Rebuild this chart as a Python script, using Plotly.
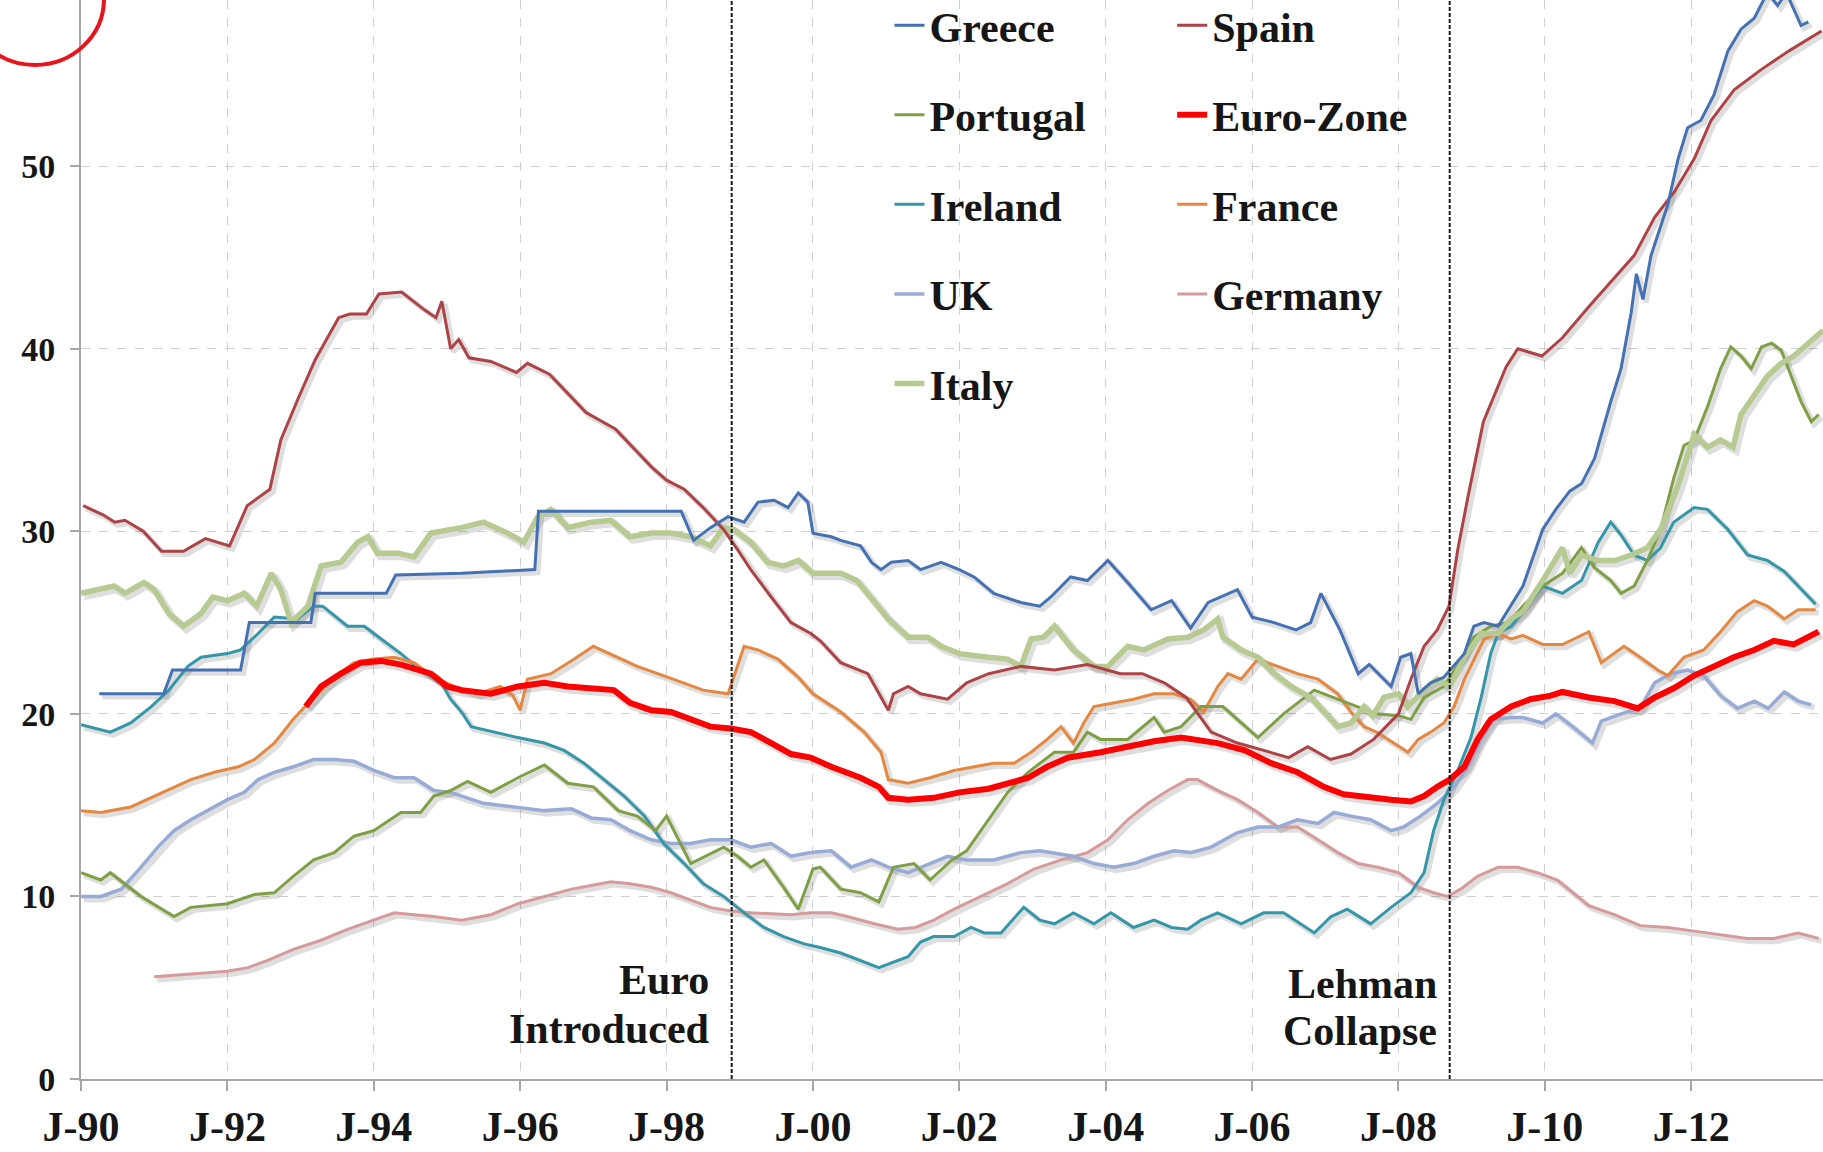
import plotly.graph_objects as go

# ---------------- data (decimal years, youth unemployment %) ----------------
greece_t = [1990.25, 1991.13, 1991.25, 1992.18, 1992.3, 1993.14, 1993.2, 1994.17, 1994.3, 1995.2, 1996.2, 1996.25,
            1997.2, 1998.2, 1998.37, 1998.6, 1998.84, 1999.06, 1999.25, 1999.47, 1999.66, 1999.8, 1999.93, 2000.0,
            2000.25, 2000.38, 2000.65, 2000.8, 2000.93, 2001.07, 2001.3, 2001.47, 2001.75, 2002.0, 2002.2, 2002.47,
            2002.84, 2003.1, 2003.25, 2003.52, 2003.75, 2004.03, 2004.3, 2004.62, 2004.9, 2005.16, 2005.4, 2005.8,
            2006.0, 2006.3, 2006.6, 2006.8, 2006.94, 2007.2, 2007.45, 2007.6, 2007.9, 2008.03, 2008.17, 2008.27,
            2008.44, 2008.62, 2008.9, 2009.03, 2009.17, 2009.36, 2009.7, 2009.97, 2010.15, 2010.34, 2010.5, 2010.68,
            2010.9, 2011.04, 2011.18, 2011.25, 2011.34, 2011.45, 2011.68, 2011.82, 2011.95, 2012.13, 2012.31,
            2012.5, 2012.68, 2012.86, 2013.04, 2013.18, 2013.3, 2013.5, 2013.6]
greece_v = [21.1, 21.1, 22.4, 22.4, 25.0, 25.0, 26.6, 26.6, 27.6, 27.7, 27.9, 31.1,
            31.1, 31.1, 29.5, 30.2, 30.8, 30.5, 31.6, 31.7, 31.3, 32.1, 31.6, 29.9,
            29.7, 29.5, 29.2, 28.3, 27.9, 28.3, 28.4, 27.9, 28.3, 27.9, 27.5, 26.6,
            26.1, 25.9, 26.4, 27.5, 27.3, 28.4, 27.2, 25.7, 26.2, 24.7, 26.1, 26.8,
            25.3, 25.0, 24.6, 25.0, 26.6, 24.6, 22.2, 22.7, 21.5, 23.1, 23.3, 21.1,
            21.7, 22.0, 23.3, 24.8, 25.0, 24.8, 27.0, 30.1, 31.2, 32.2, 32.6, 34.0,
            37.1, 38.9, 42.0, 44.1, 42.7, 45.1, 47.9, 50.4, 52.1, 52.5, 53.9,
            56.3, 57.5, 58.1, 59.5, 58.8, 59.5, 57.7, 57.9]

spain_t = [1990.03, 1990.3, 1990.46, 1990.6, 1990.85, 1991.1, 1991.4, 1991.7, 1992.03, 1992.27, 1992.58, 1992.73,
           1992.97, 1993.2, 1993.52, 1993.67, 1993.9, 1994.07, 1994.38, 1994.7, 1994.85, 1994.93, 1995.05, 1995.16,
           1995.3, 1995.6, 1995.95, 1996.1, 1996.4, 1996.9, 1997.3, 1997.8, 1998.0, 1998.24, 1998.5, 1998.78,
           1998.97, 1999.15, 1999.43, 1999.7, 1999.97, 2000.1, 2000.38, 2000.75, 2001.03, 2001.1, 2001.3, 2001.47,
           2001.84, 2002.1, 2002.4, 2002.84, 2003.3, 2003.75, 2004.2, 2004.5, 2004.8, 2005.1, 2005.44, 2005.8,
           2006.16, 2006.5, 2006.76, 2007.07, 2007.35, 2007.66, 2008.0, 2008.17, 2008.35, 2008.53, 2008.69, 2008.81,
           2008.95, 2009.16, 2009.47, 2009.63, 2009.96, 2010.24, 2010.6, 2011.0, 2011.22, 2011.5, 2011.77, 2012.04,
           2012.27, 2012.59, 2012.96, 2013.33, 2013.78]
spain_v = [31.4, 30.9, 30.5, 30.6, 30.0, 28.9, 28.9, 29.6, 29.2, 31.4, 32.3, 35.0,
           37.3, 39.4, 41.7, 41.9, 41.9, 43.0, 43.1, 42.1, 41.7, 42.6, 40.0, 40.5,
           39.5, 39.3, 38.7, 39.2, 38.6, 36.5, 35.6, 33.5, 32.8, 32.3, 31.3, 30.1,
           29.0, 27.9, 26.4, 25.0, 24.4, 24.0, 22.8, 22.2, 20.2, 21.1, 21.5, 21.1,
           20.8, 21.7, 22.2, 22.6, 22.4, 22.7, 22.2, 22.2, 21.7, 20.9, 19.0, 18.4,
           18.0, 17.6, 18.2, 17.5, 17.8, 18.6, 20.0, 21.9, 23.7, 24.6, 25.9, 29.0,
           31.9, 36.0, 39.0, 40.0, 39.6, 40.6, 42.3, 44.1, 45.1, 47.2, 48.6, 50.4,
           52.5, 54.2, 55.3, 56.3, 57.4]

portugal_t = [1990.0, 1990.27, 1990.4, 1990.82, 1991.27, 1991.5, 1992.0, 1992.37, 1992.64, 1992.9, 1993.18, 1993.46,
              1993.73, 1994.0, 1994.37, 1994.64, 1994.82, 1995.05, 1995.28, 1995.6, 1995.97, 1996.33, 1996.65, 1997.0,
              1997.34, 1997.6, 1997.85, 1998.0, 1998.33, 1998.78, 1998.97, 1999.15, 1999.33, 1999.6, 1999.8, 2000.0,
              2000.1, 2000.38, 2000.65, 2000.9, 2001.1, 2001.38, 2001.6, 2001.9, 2002.1, 2002.4, 2002.66, 2002.94,
              2003.3, 2003.56, 2003.75, 2003.93, 2004.3, 2004.66, 2004.8, 2005.03, 2005.3, 2005.6, 2006.08, 2006.43,
              2006.85, 2007.3, 2007.7, 2008.0, 2008.17, 2008.35, 2008.62, 2008.8, 2009.03, 2009.26, 2009.5, 2009.7,
              2009.97, 2010.24, 2010.5, 2010.68, 2010.9, 2011.04, 2011.22, 2011.4, 2011.58, 2011.76, 2011.9, 2012.04,
              2012.22, 2012.4, 2012.54, 2012.68, 2012.82, 2012.96, 2013.1, 2013.23, 2013.37, 2013.5, 2013.64, 2013.74]
portugal_v = [11.3, 10.9, 11.3, 10.0, 8.9, 9.4, 9.6, 10.1, 10.2, 11.1, 12.0, 12.4,
              13.3, 13.6, 14.6, 14.6, 15.5, 15.8, 16.3, 15.7, 16.5, 17.2, 16.2, 16.0,
              14.7, 14.4, 13.6, 14.4, 11.8, 12.7, 12.2, 11.6, 12.0, 10.5, 9.3, 11.5,
              11.6, 10.4, 10.2, 9.7, 11.6, 11.8, 10.9, 12.0, 12.5, 14.2, 15.7, 16.8,
              17.9, 17.9, 19.0, 18.6, 18.6, 19.8, 19.0, 19.3, 20.4, 20.4, 18.7, 20.0,
              21.3, 20.6, 20.0, 19.9, 19.7, 20.9, 21.5, 22.6, 24.2, 24.8, 25.0, 25.9,
              27.0, 27.7, 29.1, 28.0, 27.3, 26.6, 27.0, 28.4, 30.1, 32.9, 34.7, 35.0,
              36.8, 38.9, 40.1, 39.6, 38.9, 40.1, 40.3, 39.9, 38.5, 37.1, 36.0, 36.4]

euro_t = [1993.07, 1993.28, 1993.55, 1993.82, 1994.1, 1994.37, 1994.78, 1995.0, 1995.2, 1995.6, 1995.97, 1996.33,
          1996.65, 1996.97, 1997.28, 1997.5, 1997.79, 1998.06, 1998.33, 1998.6, 1998.88, 1999.15, 1999.43, 1999.7,
          1999.97, 2000.25, 2000.65, 2000.9, 2001.03, 2001.3, 2001.65, 2002.0, 2002.4, 2002.66, 2002.94, 2003.2,
          2003.48, 2003.93, 2004.3, 2004.66, 2005.03, 2005.53, 2005.9, 2006.26, 2006.62, 2006.98, 2007.25, 2007.62,
          2007.9, 2008.17, 2008.35, 2008.53, 2008.7, 2008.9, 2009.08, 2009.26, 2009.54, 2009.8, 2010.08, 2010.24,
          2010.6, 2010.95, 2011.27, 2011.5, 2011.76, 2012.04, 2012.31, 2012.58, 2012.86, 2013.13, 2013.4, 2013.74]
euro_v = [20.4, 21.5, 22.2, 22.8, 22.9, 22.7, 22.2, 21.5, 21.3, 21.1, 21.5, 21.7,
          21.5, 21.4, 21.3, 20.6, 20.2, 20.1, 19.7, 19.3, 19.2, 19.0, 18.4, 17.8,
          17.6, 17.1, 16.5, 16.0, 15.4, 15.3, 15.4, 15.7, 15.9, 16.2, 16.5, 17.1,
          17.6, 17.9, 18.2, 18.5, 18.7, 18.4, 18.0, 17.3, 16.8, 16.0, 15.6, 15.4,
          15.3, 15.2, 15.5, 16.0, 16.4, 17.1, 18.6, 19.7, 20.4, 20.8, 21.0, 21.2,
          20.9, 20.7, 20.3, 20.9, 21.4, 22.1, 22.6, 23.1, 23.5, 24.0, 23.8, 24.5]

ireland_t = [1990.0, 1990.4, 1990.68, 1990.96, 1991.2, 1991.46, 1991.64, 1992.0, 1992.18, 1992.42, 1992.64, 1992.96,
             1993.18, 1993.3, 1993.64, 1993.87, 1994.1, 1994.37, 1994.64, 1994.92, 1995.05, 1995.2, 1995.33, 1995.64,
             1995.97, 1996.33, 1996.6, 1996.87, 1997.15, 1997.42, 1997.7, 1997.96, 1998.24, 1998.5, 1998.78, 1999.06,
             1999.33, 1999.6, 1999.88, 2000.1, 2000.38, 2000.65, 2000.9, 2001.1, 2001.3, 2001.47, 2001.65, 2001.93,
             2002.16, 2002.34, 2002.57, 2002.88, 2003.1, 2003.3, 2003.56, 2003.84, 2004.07, 2004.38, 2004.66, 2004.9,
             2005.12, 2005.3, 2005.53, 2005.85, 2006.16, 2006.43, 2006.85, 2007.08, 2007.3, 2007.62, 2007.9, 2008.17,
             2008.35, 2008.48, 2008.62, 2008.8, 2008.99, 2009.13, 2009.26, 2009.36, 2009.54, 2009.7, 2009.97, 2010.24,
             2010.5, 2010.73, 2010.9, 2011.04, 2011.22, 2011.4, 2011.58, 2011.76, 2012.04, 2012.22, 2012.5, 2012.77,
             2013.04, 2013.27, 2013.46, 2013.7]
ireland_v = [19.4, 19.0, 19.5, 20.4, 21.3, 22.6, 23.1, 23.3, 23.5, 24.4, 25.3, 25.2,
             25.9, 25.9, 24.8, 24.8, 24.1, 23.3, 22.4, 21.7, 20.8, 20.1, 19.3, 19.0,
             18.7, 18.4, 18.0, 17.3, 16.4, 15.5, 14.4, 12.9, 11.8, 10.7, 10.0, 9.1,
             8.3, 7.8, 7.4, 7.2, 6.9, 6.5, 6.1, 6.4, 6.7, 7.5, 7.8, 7.8,
             8.3, 8.0, 8.0, 9.4, 8.7, 8.5, 9.1, 8.5, 9.1, 8.3, 8.7, 8.3,
             8.2, 8.7, 9.1, 8.5, 9.1, 9.1, 8.0, 8.9, 9.3, 8.5, 9.4, 10.2,
             11.3, 13.6, 15.3, 16.8, 18.7, 20.9, 23.3, 24.4, 24.8, 25.6, 27.0, 26.6,
             27.3, 29.4, 30.5, 29.8, 28.7, 28.4, 29.1, 30.5, 31.3, 31.2, 30.1, 28.7,
             28.4, 27.8, 27.0, 26.0]

france_t = [1990.0, 1990.27, 1990.68, 1991.13, 1991.5, 1991.82, 1992.15, 1992.37, 1992.64, 1992.9, 1993.18, 1993.46,
            1993.73, 1994.0, 1994.28, 1994.55, 1994.82, 1995.1, 1995.42, 1995.73, 1995.9, 1996.0, 1996.1, 1996.42,
            1996.74, 1997.0, 1997.34, 1997.6, 1997.88, 1998.24, 1998.5, 1998.84, 1998.97, 1999.06, 1999.25, 1999.52,
            1999.8, 2000.0, 2000.38, 2000.7, 2000.93, 2001.03, 2001.3, 2001.6, 2001.93, 2002.2, 2002.47, 2002.75,
            2002.98, 2003.2, 2003.39, 2003.56, 2003.7, 2003.84, 2004.11, 2004.38, 2004.66, 2004.93, 2005.16, 2005.34,
            2005.53, 2005.67, 2005.85, 2006.08, 2006.35, 2006.62, 2006.9, 2007.17, 2007.35, 2007.53, 2007.7, 2008.0,
            2008.13, 2008.27, 2008.44, 2008.62, 2008.76, 2008.9, 2009.03, 2009.17, 2009.36, 2009.54, 2009.7, 2009.97,
            2010.24, 2010.6, 2010.77, 2011.08, 2011.3, 2011.54, 2011.68, 2011.9, 2012.17, 2012.4, 2012.63, 2012.86,
            2013.04, 2013.27, 2013.46, 2013.7]
france_v = [14.7, 14.6, 14.9, 15.7, 16.4, 16.8, 17.1, 17.5, 18.4, 19.7, 20.9, 22.0,
            22.8, 23.0, 23.1, 22.8, 22.0, 21.5, 21.1, 21.5, 21.0, 20.2, 21.9, 22.2,
            23.0, 23.7, 23.1, 22.6, 22.2, 21.7, 21.3, 21.1, 22.6, 23.7, 23.5, 23.0,
            22.0, 21.1, 20.1, 19.0, 17.9, 16.4, 16.2, 16.5, 16.9, 17.1, 17.3, 17.3,
            17.9, 18.6, 19.3, 18.4, 19.5, 20.4, 20.6, 20.8, 21.1, 21.1, 20.8, 20.1,
            21.5, 22.2, 21.9, 23.0, 22.6, 22.2, 21.9, 21.1, 20.1, 19.3, 19.0, 18.2,
            17.9, 18.6, 19.0, 19.5, 20.4, 21.9, 23.0, 24.1, 24.4, 24.1, 24.3, 23.8,
            23.8, 24.5, 22.8, 23.7, 23.1, 22.4, 22.1, 23.1, 23.5, 24.5, 25.6, 26.2,
            25.9, 25.2, 25.7, 25.7]

uk_t = [1990.0, 1990.27, 1990.55, 1990.82, 1991.05, 1991.27, 1991.5, 1991.73, 1992.0, 1992.23, 1992.42, 1992.64,
        1992.9, 1993.18, 1993.46, 1993.73, 1994.0, 1994.28, 1994.55, 1994.82, 1995.05, 1995.5, 1995.97, 1996.33,
        1996.7, 1996.97, 1997.24, 1997.5, 1997.79, 1998.06, 1998.33, 1998.6, 1998.88, 1999.15, 1999.43, 1999.7,
        1999.97, 2000.25, 2000.52, 2000.8, 2001.03, 2001.3, 2001.6, 2001.84, 2002.1, 2002.47, 2002.84, 2003.1,
        2003.56, 2003.84, 2004.11, 2004.38, 2004.66, 2004.93, 2005.16, 2005.44, 2005.8, 2006.08, 2006.35, 2006.62,
        2006.9, 2007.12, 2007.35, 2007.62, 2007.9, 2008.07, 2008.3, 2008.53, 2008.76, 2008.95, 2009.13, 2009.3,
        2009.54, 2009.7, 2009.97, 2010.15, 2010.38, 2010.65, 2010.77, 2011.04, 2011.3, 2011.5, 2011.72, 2011.95,
        2012.17, 2012.4, 2012.63, 2012.86, 2013.05, 2013.27, 2013.46, 2013.64]
uk_v = [10.0, 10.0, 10.4, 11.6, 12.7, 13.6, 14.2, 14.7, 15.3, 15.7, 16.4, 16.8,
        17.1, 17.5, 17.5, 17.4, 16.9, 16.5, 16.5, 15.8, 15.7, 15.1, 14.9, 14.7,
        14.8, 14.3, 14.2, 13.6, 13.1, 12.9, 12.9, 13.1, 13.1, 12.7, 12.9, 12.2,
        12.4, 12.5, 11.6, 12.0, 11.6, 11.3, 11.8, 12.2, 12.0, 12.0, 12.4, 12.5,
        12.2, 11.8, 11.6, 11.8, 12.2, 12.5, 12.4, 12.7, 13.5, 13.8, 13.8, 14.2,
        14.0, 14.6, 14.4, 14.2, 13.6, 13.8, 14.4, 15.1, 16.0, 17.1, 18.6, 19.7,
        19.8, 19.8, 19.5, 20.0, 19.3, 18.4, 19.6, 20.0, 20.3, 21.7, 22.2, 22.4,
        22.1, 21.0, 20.3, 20.7, 20.3, 21.2, 20.7, 20.5]

germany_t = [1991.0, 1991.37, 1991.73, 1992.0, 1992.28, 1992.55, 1992.9, 1993.28, 1993.64, 1994.0, 1994.28, 1994.55,
             1994.82, 1995.2, 1995.6, 1995.97, 1996.33, 1996.7, 1996.97, 1997.24, 1997.5, 1997.79, 1998.06, 1998.33,
             1998.6, 1998.88, 1999.15, 1999.7, 1999.97, 2000.25, 2000.47, 2000.84, 2001.16, 2001.4, 2001.65, 2001.93,
             2002.3, 2002.66, 2003.02, 2003.39, 2003.75, 2004.03, 2004.3, 2004.58, 2004.85, 2005.12, 2005.25, 2005.53,
             2005.8, 2006.08, 2006.35, 2006.62, 2006.9, 2007.17, 2007.45, 2007.72, 2008.0, 2008.27, 2008.48, 2008.67,
             2008.85, 2009.08, 2009.36, 2009.63, 2009.9, 2010.17, 2010.6, 2010.95, 2011.3, 2011.68, 2012.04, 2012.4,
             2012.77, 2013.13, 2013.46, 2013.74]
germany_v = [5.6, 5.7, 5.8, 5.9, 6.1, 6.5, 7.1, 7.6, 8.2, 8.7, 9.1, 9.0,
             8.9, 8.7, 9.0, 9.6, 10.0, 10.4, 10.6, 10.8, 10.7, 10.5, 10.2, 9.8,
             9.4, 9.2, 9.1, 9.0, 9.1, 9.1, 8.9, 8.5, 8.2, 8.3, 8.7, 9.3,
             10.0, 10.7, 11.5, 12.0, 12.4, 13.1, 14.2, 15.1, 15.8, 16.4, 16.4, 15.8,
             15.3, 14.6, 13.8, 13.8, 13.1, 12.4, 11.8, 11.6, 11.3, 10.5, 10.2, 10.0,
             10.4, 11.1, 11.6, 11.6, 11.3, 10.9, 9.5, 9.0, 8.4, 8.3, 8.1, 7.9,
             7.7, 7.7, 8.0, 7.7]

italy_t = [1990.0, 1990.27, 1990.45, 1990.6, 1990.86, 1991.0, 1991.2, 1991.4, 1991.64, 1991.8, 1992.0, 1992.23,
           1992.4, 1992.6, 1992.73, 1992.87, 1993.1, 1993.28, 1993.55, 1993.78, 1993.92, 1994.05, 1994.33, 1994.55,
           1994.78, 1995.2, 1995.5, 1995.83, 1996.05, 1996.24, 1996.42, 1996.65, 1996.97, 1997.24, 1997.5, 1997.79,
           1998.06, 1998.33, 1998.6, 1998.78, 1998.92, 1999.15, 1999.38, 1999.6, 1999.8, 2000.0, 2000.38, 2000.6,
           2000.84, 2001.03, 2001.3, 2001.57, 2001.75, 2002.0, 2002.4, 2002.66, 2002.84, 2002.98, 2003.15, 2003.3,
           2003.56, 2003.84, 2004.03, 2004.3, 2004.52, 2004.85, 2005.12, 2005.34, 2005.53, 2005.6, 2005.85, 2006.08,
           2006.3, 2006.53, 2006.8, 2007.08, 2007.17, 2007.35, 2007.53, 2007.65, 2007.8, 2008.0, 2008.13, 2008.35,
           2008.53, 2008.7, 2008.9, 2009.13, 2009.36, 2009.54, 2009.7, 2009.97, 2010.24, 2010.34, 2010.5, 2010.73,
           2010.95, 2011.18, 2011.4, 2011.58, 2011.82, 2012.04, 2012.22, 2012.4, 2012.57, 2012.68, 2012.86, 2013.04,
           2013.23, 2013.4, 2013.6, 2013.8]
italy_v = [26.6, 26.8, 27.0, 26.6, 27.2, 26.8, 25.5, 24.8, 25.5, 26.4, 26.2, 26.6,
           25.9, 27.7, 26.8, 25.0, 25.9, 28.1, 28.3, 29.4, 29.7, 28.8, 28.8, 28.6,
           29.9, 30.2, 30.5, 29.9, 29.4, 30.8, 31.2, 30.2, 30.5, 30.6, 29.7, 29.9,
           29.9, 29.7, 29.2, 30.2, 30.1, 29.4, 28.3, 28.1, 28.4, 27.7, 27.7, 27.3,
           26.1, 25.2, 24.2, 24.2, 23.7, 23.3, 23.1, 23.0, 22.6, 24.1, 24.2, 24.8,
           23.5, 22.6, 22.6, 23.7, 23.5, 24.1, 24.2, 24.6, 25.2, 24.2, 23.5, 23.1,
           22.2, 21.5, 20.9, 19.7, 19.3, 19.5, 20.4, 19.9, 20.9, 21.1, 20.4, 21.3,
           21.9, 21.5, 23.1, 24.4, 24.4, 25.2, 25.6, 27.3, 29.1, 27.7, 28.7, 28.4,
           28.4, 28.7, 29.1, 30.1, 32.5, 35.3, 34.6, 35.0, 34.6, 36.4, 37.5, 38.5,
           39.2, 39.6, 40.3, 41.0]

tick_years = [1990, 1992, 1994, 1996, 1998, 2000, 2002, 2004, 2006, 2008, 2010, 2012]
tick_labels = ["J-90", "J-92", "J-94", "J-96", "J-98", "J-00", "J-02", "J-04", "J-06", "J-08", "J-10", "J-12"]
y_ticks = [0, 10, 20, 30, 40, 50]
events_t = [1998.89, 2008.70]
events_lines = [["Euro", "Introduced"], ["Lehman", "Collapse"]]
events_label_y = [[5.42, 2.74], [5.22, 2.62]]
events_label_shift = [-21, -11]

# ---------------- styling ----------------
SERIF = "Liberation Serif, Times New Roman, serif"
TXT = "#161616"
X_RANGE = [1990.0, 2013.8]
Y_RANGE = [0.0, 59.1]
PLOT_W, PLOT_H = 1823 - 81, 1152 - 73
SHADOW_PX = 3  # soft drop shadow offset (right / down), in pixels
dx = SHADOW_PX * (X_RANGE[1] - X_RANGE[0]) / PLOT_W
dy = SHADOW_PX * (Y_RANGE[1] - Y_RANGE[0]) / PLOT_H

series = [
    # name, t, v, color, width, legend, rank
    ("Germany", germany_t, germany_v, "#D79A9A", 3, "legend2", 4),
    ("UK", uk_t, uk_v, "#98ABD7", 3.5, "legend", 4),
    ("Ireland", ireland_t, ireland_v, "#3396A9", 3, "legend", 3),
    ("France", france_t, france_v, "#E5873F", 3, "legend2", 3),
    ("Portugal", portugal_t, portugal_v, "#7E9F43", 3, "legend", 2),
    ("Italy", italy_t, italy_v, "#B6CA92", 5.5, "legend", 5),
    ("Spain", spain_t, spain_v, "#AE4347", 3, "legend2", 1),
    ("Greece", greece_t, greece_v, "#4471B3", 3, "legend", 1),
    ("Euro-Zone", euro_t, euro_v, "#FF0000", 6, "legend2", 2),
]

fig = go.Figure()
# shadows on the (hidden, slightly shifted) base axes
for name, t, v, color, w, leg, rank in series:
    fig.add_trace(go.Scatter(
        x=t, y=v, mode="lines", xaxis="x", yaxis="y", showlegend=False,
        line=dict(color="rgba(0,0,0,0.13)", width=w + 2.5), hoverinfo="skip",
    ))
# real lines on the visible overlay axes
for name, t, v, color, w, leg, rank in series:
    fig.add_trace(go.Scatter(
        x=t, y=v, mode="lines", name=name, xaxis="x2", yaxis="y2",
        line=dict(color=color, width=w),
        legend=leg, legendrank=rank, legendgroup=name,
        hoverinfo="skip",
    ))

shapes = []
for ev in events_t:
    shapes.append(dict(type="line", xref="x2", yref="paper", x0=ev, x1=ev, y0=0, y1=1,
                       line=dict(color="#1A1A1A", width=2, dash="4px,2px"), layer="above"))
# red highlight circle, top-left corner
shapes.append(dict(type="circle", xref="paper", yref="paper",
                   x0=-0.0660, x1=0.0132, y0=0.9398, y1=1.0621,
                   line=dict(color="#E8141C", width=4)))

annotations = []
for ev, lines, ys, xs in zip(events_t, events_lines, events_label_y, events_label_shift):
    for txt, yy in zip(lines, ys):
        annotations.append(dict(x=ev, y=yy, xref="x2", yref="y2", text=txt, showarrow=False,
                                xanchor="right", yanchor="middle", xshift=xs,
                                font=dict(family=SERIF, size=42, color=TXT, weight="bold")))

legend_common = dict(y=1.008, yanchor="top", xanchor="left", bgcolor="rgba(0,0,0,0)",
                     font=dict(family=SERIF, size=42, color=TXT, weight="bold"),
                     traceorder="grouped", tracegroupgap=32, borderwidth=0)

hidden = dict(visible=False, showgrid=False, zeroline=False, fixedrange=True)

fig.update_layout(
    width=1823, height=1152,
    margin=dict(l=81, r=0, t=0, b=73, autoexpand=False),
    paper_bgcolor="white", plot_bgcolor="white",
    showlegend=True,
    legend=dict(x=0.4641, **legend_common),
    legend2=dict(x=0.6264, **legend_common),
    shapes=shapes, annotations=annotations,
    xaxis=dict(range=[X_RANGE[0] - dx, X_RANGE[1] - dx], **hidden),
    yaxis=dict(range=[Y_RANGE[0] + dy, Y_RANGE[1] + dy], **hidden),
    xaxis2=dict(overlaying="x", anchor="y2", side="bottom",
                range=X_RANGE, tickvals=tick_years, ticktext=tick_labels,
                showgrid=True, gridcolor="#CFCFCF", griddash="dash", gridwidth=1,
                showline=True, linecolor="#A6A6A6", linewidth=2,
                ticks="outside", ticklen=10, tickwidth=2, tickcolor="#A6A6A6",
                tickfont=dict(family=SERIF, size=42, color=TXT, weight="bold"),
                zeroline=False, fixedrange=True, automargin=False),
    yaxis2=dict(overlaying="y", anchor="x2", side="left",
                range=Y_RANGE, tickvals=y_ticks,
                showgrid=True, gridcolor="#CFCFCF", griddash="dash", gridwidth=1,
                showline=True, linecolor="#A6A6A6", linewidth=2,
                ticks="outside", ticklen=9, tickwidth=2, tickcolor="#A6A6A6",
                ticklabelstandoff=8,
                tickfont=dict(family=SERIF, size=34, color=TXT, weight="bold"),
                zeroline=False, fixedrange=True, automargin=False),
)

# remove the default page margin so the figure sits flush with the window
fig.write_html("out.html",
               config={"displayModeBar": False, "staticPlot": True},
               post_script="document.body.style.margin='0px';document.body.style.overflow='hidden';")
